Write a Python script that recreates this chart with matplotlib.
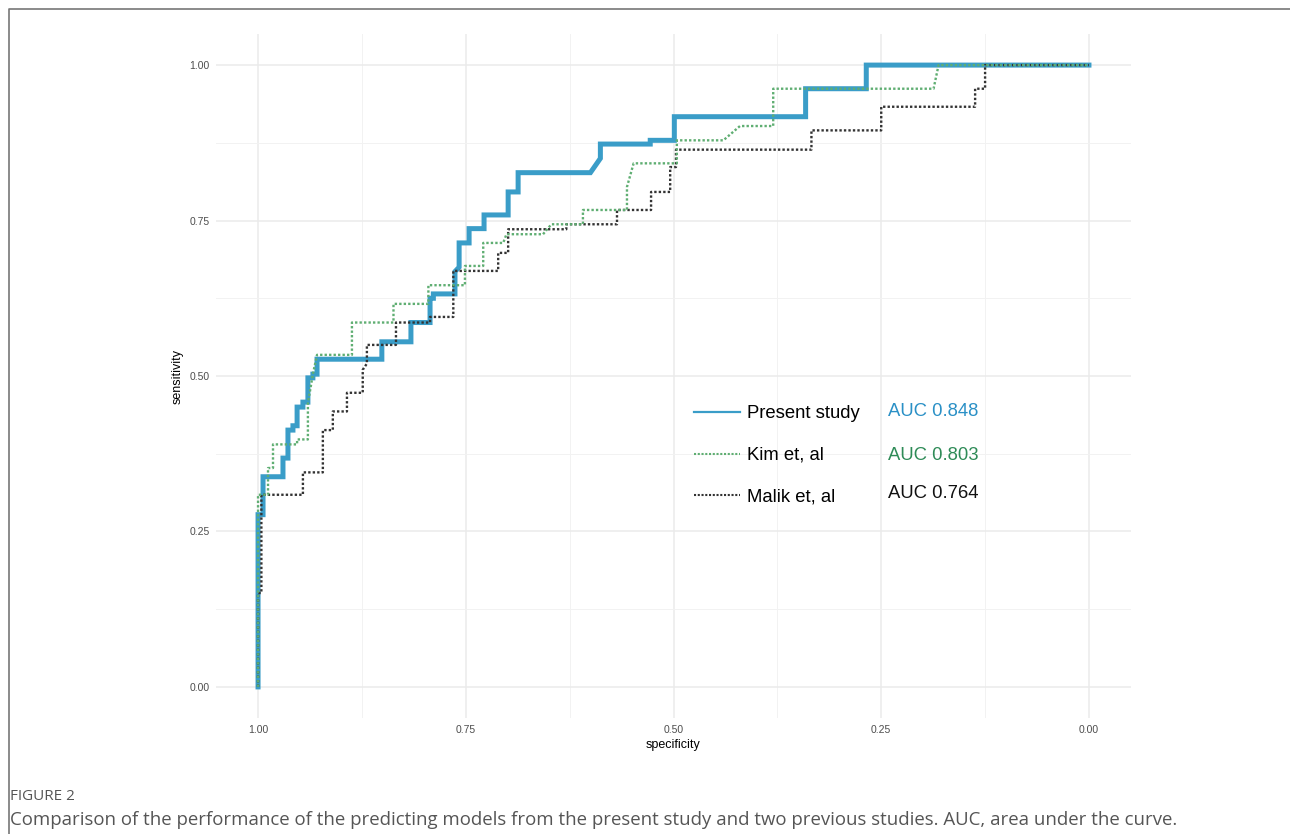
import matplotlib
matplotlib.use("Agg")
import matplotlib.pyplot as plt
from matplotlib.lines import Line2D

plt.rcParams['font.family'] = ['Liberation Sans', 'DejaVu Sans']

# ROC vertices (specificity, sensitivity)
present_spec = [1.000, 1.000, 0.994, 0.994, 0.970, 0.970, 0.964, 0.964, 0.958, 0.958,
                0.953, 0.953, 0.946, 0.946, 0.940, 0.940, 0.934, 0.934, 0.929, 0.929,
                0.851, 0.851, 0.816, 0.816, 0.793, 0.793, 0.789, 0.789, 0.763, 0.763,
                0.758, 0.758, 0.746, 0.746, 0.728, 0.728, 0.699, 0.699, 0.687, 0.687,
                0.600, 0.588, 0.588, 0.528, 0.528, 0.499, 0.499, 0.341, 0.341, 0.268,
                0.268, 0.000]
present_sens = [0.000, 0.277, 0.277, 0.338, 0.338, 0.368, 0.368, 0.413, 0.413, 0.420,
                0.420, 0.450, 0.450, 0.458, 0.458, 0.497, 0.497, 0.503, 0.503, 0.527,
                0.527, 0.555, 0.555, 0.586, 0.586, 0.625, 0.625, 0.632, 0.632, 0.668,
                0.675, 0.714, 0.714, 0.737, 0.737, 0.759, 0.759, 0.796, 0.796, 0.827,
                0.827, 0.850, 0.873, 0.873, 0.879, 0.879, 0.917, 0.917, 0.962, 0.962,
                1.000, 1.000]

kim_spec = [1.000, 1.000, 0.988, 0.988, 0.982, 0.982, 0.953, 0.953, 0.940, 0.940,
            0.934, 0.929, 0.925, 0.887, 0.887, 0.837, 0.837, 0.795, 0.795, 0.751,
            0.751, 0.729, 0.729, 0.705, 0.701, 0.657, 0.647, 0.609, 0.609, 0.556,
            0.556, 0.548, 0.496, 0.496, 0.440, 0.420, 0.380, 0.380, 0.187, 0.181,
            0.000]
kim_sens = [0.000, 0.309, 0.309, 0.352, 0.352, 0.390, 0.390, 0.398, 0.398, 0.456,
            0.503, 0.534, 0.534, 0.534, 0.586, 0.586, 0.616, 0.616, 0.646, 0.646,
            0.677, 0.677, 0.714, 0.714, 0.728, 0.728, 0.744, 0.744, 0.767, 0.767,
            0.804, 0.842, 0.842, 0.879, 0.879, 0.902, 0.902, 0.962, 0.962, 1.000,
            1.000]

malik_spec = [1.000, 1.000, 0.996, 0.996, 0.946, 0.946, 0.922, 0.922, 0.910, 0.910,
              0.893, 0.893, 0.874, 0.874, 0.869, 0.869, 0.834, 0.834, 0.793, 0.793,
              0.765, 0.765, 0.711, 0.711, 0.699, 0.699, 0.629, 0.629, 0.568, 0.568,
              0.527, 0.527, 0.504, 0.504, 0.497, 0.497, 0.334, 0.334, 0.250, 0.250,
              0.137, 0.137, 0.125, 0.125, 0.000]
malik_sens = [0.000, 0.151, 0.151, 0.309, 0.309, 0.345, 0.345, 0.413, 0.413, 0.443,
              0.443, 0.473, 0.473, 0.510, 0.520, 0.550, 0.550, 0.586, 0.586, 0.595,
              0.595, 0.669, 0.669, 0.698, 0.698, 0.736, 0.736, 0.744, 0.744, 0.767,
              0.767, 0.796, 0.796, 0.836, 0.836, 0.864, 0.864, 0.895, 0.895, 0.933,
              0.933, 0.962, 0.962, 1.000, 1.000]

labels = ['Present study', 'Kim et, al', 'Malik et, al']
auc_labels = ['AUC 0.848', 'AUC 0.803', 'AUC 0.764']
ticks = [1.00, 0.75, 0.50, 0.25, 0.00]
tick_labels = ['1.00', '0.75', '0.50', '0.25', '0.00']

blue = '#3a9dc8'
green = '#5fae72'
dark = '#333333'
auc_colors = ['#2a90c6', '#2e8b57', '#111111']

fig = plt.figure(figsize=(12.9, 8.34), dpi=100)
ax = fig.add_axes([216.5 / 1290, 1 - 718 / 834, 914 / 1290, 684 / 834])

ax.plot(malik_spec, malik_sens, color=dark, lw=1.7, linestyle=(0, (1, 0.9)), zorder=3)
ax.plot(kim_spec, kim_sens, color=green, lw=1.7, linestyle=(0, (1, 0.9)), zorder=3)
ax.plot(present_spec, present_sens, color=blue, lw=3.6, solid_joinstyle='miter', zorder=2)

ax.set_xlim(1.05, -0.05)
ax.set_ylim(-0.05, 1.05)
ax.set_xticks(ticks)
ax.set_xticklabels(tick_labels)
ax.set_yticks(ticks)
ax.set_yticklabels(tick_labels)
ax.set_xticks([0.875, 0.625, 0.375, 0.125], minor=True)
ax.set_yticks([0.875, 0.625, 0.375, 0.125], minor=True)
ax.grid(which='major', color='#ebebeb', lw=1.1, zorder=0)
ax.grid(which='minor', color='#f2f2f2', lw=0.7, zorder=0)
ax.set_axisbelow(True)
for s in ax.spines.values():
    s.set_visible(False)
ax.tick_params(which='both', length=0, labelsize=7.5, labelcolor='#4d4d4d', pad=5)
ax.set_xlabel('specificity', fontsize=9, labelpad=3)
ax.set_ylabel('sensitivity', fontsize=9, labelpad=4)

handles = [Line2D([], [], color=blue, lw=1.6),
           Line2D([], [], color=green, lw=1.5, linestyle=(0, (1, 0.8))),
           Line2D([], [], color=dark, lw=1.5, linestyle=(0, (1, 0.8)))]
ax.legend(handles, labels, loc='center left', bbox_to_anchor=(694 / 1290, 1 - 455.5 / 834),
          bbox_transform=fig.transFigure, frameon=False, fontsize=13.3, handlelength=2.5,
          handletextpad=0.35, labelspacing=1.33, borderpad=0, borderaxespad=0)

for i, (t, c) in enumerate(zip(auc_labels, auc_colors)):
    ypix = [411, 455, 494][i]
    fig.text(888 / 1290, 1 - ypix / 834, t, color=c, fontsize=13.3, va='center', ha='left')

# frame and caption
fig.add_artist(Line2D([9 / 1290, 9 / 1290, 1.0], [0.0, 1 - 9 / 834, 1 - 9 / 834],
                      transform=fig.transFigure, color='#777777', lw=1.2))
fig.text(10 / 1290, 1 - 797 / 834, 'FIGURE 2', fontsize=11, color='#555555',
         family='Open Sans', va='center')
fig.text(10 / 1290, 1 - 820 / 834,
         'Comparison of the performance of the predicting models from the present study and two previous studies. AUC, area under the curve.',
         fontsize=13.4, color='#555555', family='Open Sans', va='center')

fig.savefig('out.png', dpi=100)
